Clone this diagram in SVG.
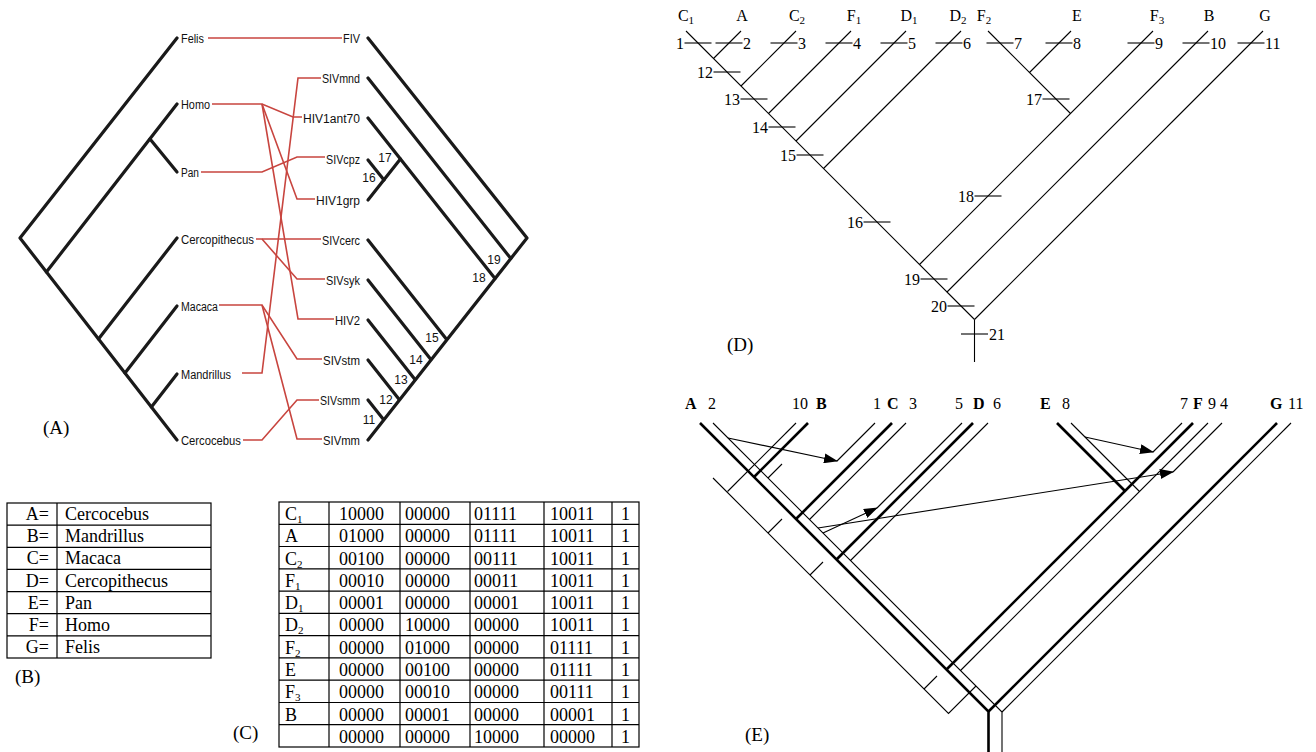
<svg xmlns="http://www.w3.org/2000/svg" width="1316" height="752" viewBox="0 0 1316 752">
<defs>
<marker id="ah" markerWidth="14" markerHeight="10" refX="13" refY="5" orient="auto" markerUnits="userSpaceOnUse">
<path d="M0,0 L14,5 L0,10 z" fill="#000"/>
</marker>
</defs>
<style>
.hA{stroke:#1a1a1a;stroke-width:3.2;fill:none;stroke-linecap:round;stroke-linejoin:round}
.red{stroke:#c8453f;stroke-width:1.6;fill:none}
.lblA{font-family:"Liberation Sans",Arial,sans-serif;font-size:12.5px;fill:#111}
.numA{font-family:"Liberation Sans",Arial,sans-serif;font-size:12px;fill:#111}
.serif{font-family:"Liberation Serif","Times New Roman",serif;fill:#000}
.s16{font-size:16px}
.s18{font-size:18px}
.s19{font-size:19px}
.b{font-weight:bold}
.thin{stroke:#000;stroke-width:1.1;fill:none}
.thick{stroke:#000;stroke-width:2.6;fill:none}
.grid{stroke:#000;stroke-width:1.2;fill:none}
.sub{font-size:11px}
</style>
<rect width="1316" height="752" fill="#fff"/>

<!-- ================= Panel A ================= -->
<g id="panelA-hostTree" class="hA">
<polyline points="177,38 20,238 177,440"/>
<line x1="177" y1="104" x2="46.4" y2="272"/>
<line x1="150" y1="139" x2="177" y2="172"/>
<line x1="177" y1="238" x2="98.5" y2="339"/>
<line x1="177" y1="306" x2="125" y2="373"/>
<line x1="177" y1="374" x2="151.4" y2="407"/>
</g>
<g id="panelA-parasiteTree" class="hA">
<polyline points="368,38 527,238 368,440"/>
<line x1="368" y1="78" x2="510.8" y2="258.5"/>
<line x1="368" y1="118" x2="495" y2="278.5"/>
<line x1="368" y1="160" x2="384" y2="180"/>
<line x1="368" y1="200" x2="400.4" y2="159"/>
<line x1="368" y1="240" x2="446.7" y2="339.5"/>
<line x1="368" y1="280" x2="430.9" y2="359.5"/>
<line x1="368" y1="320" x2="415" y2="379.4"/>
<line x1="368" y1="360" x2="399" y2="399.2"/>
<line x1="368" y1="400" x2="383.3" y2="419.3"/>
</g>
<g id="panelA-connectors" class="red">
<polyline points="208,38 342,38"/>
<polyline points="212,104 262,104 293,117 302,117"/>
<polyline points="262,104 297,199 315,199"/>
<polyline points="262,104 298,319 334,319"/>
<polyline points="201,172 262,172 297,157 325,157"/>
<polyline points="256,239 321,239"/>
<polyline points="262,239 297,279 325,279"/>
<polyline points="219,305 262,305 297,359 322,359"/>
<polyline points="262,305 297,439 322,439"/>
<polyline points="242,373 262,373 298,78 321,78"/>
<polyline points="243,440 262,440 297,400 319,400"/>
</g>
<g id="host-Felis"><text class="lblA" x="181" y="42.5" textLength="23" lengthAdjust="spacingAndGlyphs">Felis</text></g>
<g id="host-Homo"><text class="lblA" x="181" y="108.5" textLength="29" lengthAdjust="spacingAndGlyphs">Homo</text></g>
<g id="host-Pan"><text class="lblA" x="181" y="176.5" textLength="18" lengthAdjust="spacingAndGlyphs">Pan</text></g>
<g id="host-Cercopithecus"><text class="lblA" x="181" y="243.5" textLength="73" lengthAdjust="spacingAndGlyphs">Cercopithecus</text></g>
<g id="host-Macaca"><text class="lblA" x="181" y="310.5" textLength="37" lengthAdjust="spacingAndGlyphs">Macaca</text></g>
<g id="host-Mandrillus"><text class="lblA" x="181" y="378.5" textLength="50" lengthAdjust="spacingAndGlyphs">Mandrillus</text></g>
<g id="host-Cercocebus"><text class="lblA" x="181" y="444.5" textLength="60" lengthAdjust="spacingAndGlyphs">Cercocebus</text></g>
<g id="par-FIV"><text class="lblA" x="343" y="42.5" textLength="17" lengthAdjust="spacingAndGlyphs">FIV</text></g>
<g id="par-SIVmnd"><text class="lblA" x="322" y="82.5" textLength="38" lengthAdjust="spacingAndGlyphs">SIVmnd</text></g>
<g id="par-HIV1ant70"><text class="lblA" x="303" y="122.5" textLength="57" lengthAdjust="spacingAndGlyphs">HIV1ant70</text></g>
<g id="par-SIVcpz"><text class="lblA" x="326" y="163.5" textLength="34" lengthAdjust="spacingAndGlyphs">SIVcpz</text></g>
<g id="par-HIV1grp"><text class="lblA" x="316" y="204.5" textLength="44" lengthAdjust="spacingAndGlyphs">HIV1grp</text></g>
<g id="par-SIVcerc"><text class="lblA" x="322" y="244.5" textLength="38" lengthAdjust="spacingAndGlyphs">SIVcerc</text></g>
<g id="par-SIVsyk"><text class="lblA" x="326" y="284.5" textLength="34" lengthAdjust="spacingAndGlyphs">SIVsyk</text></g>
<g id="par-HIV2"><text class="lblA" x="335" y="324.5" textLength="25" lengthAdjust="spacingAndGlyphs">HIV2</text></g>
<g id="par-SIVstm"><text class="lblA" x="323" y="364.5" textLength="37" lengthAdjust="spacingAndGlyphs">SIVstm</text></g>
<g id="par-SIVsmm"><text class="lblA" x="320" y="404.5" textLength="40" lengthAdjust="spacingAndGlyphs">SIVsmm</text></g>
<g id="par-SIVmm"><text class="lblA" x="323" y="444.5" textLength="37" lengthAdjust="spacingAndGlyphs">SIVmm</text></g>
<g id="panelA-nodeNumbers" class="numA" text-anchor="middle">
<text x="385" y="162">17</text>
<text x="369" y="182">16</text>
<text x="494" y="264">19</text>
<text x="479" y="282">18</text>
<text x="432" y="342">15</text>
<text x="416" y="364">14</text>
<text x="401" y="384">13</text>
<text x="386" y="404">12</text>
<text x="369" y="424">11</text>
</g>
<text class="serif s19" x="43" y="434">(A)</text>

<!-- ================= Panel B ================= -->
<g id="tableB">
<rect class="grid" x="7" y="503" width="204" height="155"/>
<line class="grid" x1="57" y1="503" x2="57" y2="658"/>
<g class="grid">
<line x1="7" y1="525.1" x2="211" y2="525.1"/>
<line x1="7" y1="547.3" x2="211" y2="547.3"/>
<line x1="7" y1="569.4" x2="211" y2="569.4"/>
<line x1="7" y1="591.6" x2="211" y2="591.6"/>
<line x1="7" y1="613.7" x2="211" y2="613.7"/>
<line x1="7" y1="635.9" x2="211" y2="635.9"/>
</g>
<g class="serif s18" text-anchor="end">
<text x="49" y="520">A=</text>
<text x="49" y="542">B=</text>
<text x="49" y="564">C=</text>
<text x="49" y="586.5">D=</text>
<text x="49" y="608.5">E=</text>
<text x="49" y="630.5">F=</text>
<text x="49" y="653">G=</text>
</g>
<g class="serif s18">
<text x="65" y="520">Cercocebus</text>
<text x="65" y="542">Mandrillus</text>
<text x="65" y="564">Macaca</text>
<text x="65" y="586.5">Cercopithecus</text>
<text x="65" y="608.5">Pan</text>
<text x="65" y="630.5">Homo</text>
<text x="65" y="653">Felis</text>
</g>
</g>
<text class="serif s19" x="15" y="683">(B)</text>

<!-- ================= Panel C ================= -->
<g id="tableC">
<rect class="grid" x="279" y="502" width="360" height="245"/>
<g class="grid">
<line x1="329" y1="502" x2="329" y2="747"/>
<line x1="400" y1="502" x2="400" y2="747"/>
<line x1="470" y1="502" x2="470" y2="747"/>
<line x1="544" y1="502" x2="544" y2="747"/>
<line x1="612" y1="502" x2="612" y2="747"/>
<line x1="279" y1="524.3" x2="639" y2="524.3"/>
<line x1="279" y1="546.5" x2="639" y2="546.5"/>
<line x1="279" y1="568.8" x2="639" y2="568.8"/>
<line x1="279" y1="591.1" x2="639" y2="591.1"/>
<line x1="279" y1="613.4" x2="639" y2="613.4"/>
<line x1="279" y1="635.6" x2="639" y2="635.6"/>
<line x1="279" y1="657.9" x2="639" y2="657.9"/>
<line x1="279" y1="680.2" x2="639" y2="680.2"/>
<line x1="279" y1="702.5" x2="639" y2="702.5"/>
<line x1="279" y1="724.7" x2="639" y2="724.7"/>
</g>
<g class="serif s18">
<text x="285" y="520">C<tspan class="sub" dy="3">1</tspan></text>
<text x="285" y="542.3">A</text>
<text x="285" y="564.5">C<tspan class="sub" dy="3">2</tspan></text>
<text x="285" y="586.8">F<tspan class="sub" dy="3">1</tspan></text>
<text x="285" y="609.1">D<tspan class="sub" dy="3">1</tspan></text>
<text x="285" y="631.4">D<tspan class="sub" dy="3">2</tspan></text>
<text x="285" y="653.6">F<tspan class="sub" dy="3">2</tspan></text>
<text x="285" y="675.9">E</text>
<text x="285" y="698.2">F<tspan class="sub" dy="3">3</tspan></text>
<text x="285" y="720.5">B</text>
</g>
<g class="serif s18">
<text x="339" y="520">10000</text><text x="405" y="520">00000</text><text x="474" y="520">01111</text><text x="550" y="520">10011</text><text x="621" y="520">1</text>
<text x="339" y="542.3">01000</text><text x="405" y="542.3">00000</text><text x="474" y="542.3">01111</text><text x="550" y="542.3">10011</text><text x="621" y="542.3">1</text>
<text x="339" y="564.5">00100</text><text x="405" y="564.5">00000</text><text x="474" y="564.5">00111</text><text x="550" y="564.5">10011</text><text x="621" y="564.5">1</text>
<text x="339" y="586.8">00010</text><text x="405" y="586.8">00000</text><text x="474" y="586.8">00011</text><text x="550" y="586.8">10011</text><text x="621" y="586.8">1</text>
<text x="339" y="609.1">00001</text><text x="405" y="609.1">00000</text><text x="474" y="609.1">00001</text><text x="550" y="609.1">10011</text><text x="621" y="609.1">1</text>
<text x="339" y="631.4">00000</text><text x="405" y="631.4">10000</text><text x="474" y="631.4">00000</text><text x="550" y="631.4">10011</text><text x="621" y="631.4">1</text>
<text x="339" y="653.6">00000</text><text x="405" y="653.6">01000</text><text x="474" y="653.6">00000</text><text x="550" y="653.6">01111</text><text x="621" y="653.6">1</text>
<text x="339" y="675.9">00000</text><text x="405" y="675.9">00100</text><text x="474" y="675.9">00000</text><text x="550" y="675.9">01111</text><text x="621" y="675.9">1</text>
<text x="339" y="698.2">00000</text><text x="405" y="698.2">00010</text><text x="474" y="698.2">00000</text><text x="550" y="698.2">00111</text><text x="621" y="698.2">1</text>
<text x="339" y="720.5">00000</text><text x="405" y="720.5">00001</text><text x="474" y="720.5">00000</text><text x="550" y="720.5">00001</text><text x="621" y="720.5">1</text>
<text x="339" y="742.7">00000</text><text x="405" y="742.7">00000</text><text x="474" y="742.7">10000</text><text x="550" y="742.7">00000</text><text x="621" y="742.7">1</text>
</g>
</g>
<text class="serif s19" x="233" y="739">(C)</text>

<!-- ================= Panel D ================= -->
<g id="treeD" class="thin">
<line x1="686" y1="31" x2="974.5" y2="319.5"/>
<line x1="741" y1="31" x2="713.5" y2="58.5"/>
<line x1="796" y1="31" x2="741" y2="86"/>
<line x1="851" y1="31" x2="768.5" y2="113.5"/>
<line x1="906" y1="31" x2="796" y2="141"/>
<line x1="961" y1="31" x2="823.5" y2="168.5"/>
<line x1="988" y1="31" x2="1070.5" y2="113.5"/>
<line x1="1071" y1="31" x2="1029.5" y2="72.5"/>
<line x1="1153" y1="31" x2="919.5" y2="264.5"/>
<line x1="1208" y1="31" x2="947" y2="292"/>
<line x1="1263" y1="31" x2="974.5" y2="319.5"/>
<line x1="974.5" y1="319.5" x2="974.5" y2="362"/>
</g>
<g id="ticksD" class="thin">
<line x1="684.5" y1="43" x2="711.5" y2="43"/>
<line x1="715.5" y1="43" x2="742.5" y2="43"/>
<line x1="770.5" y1="43" x2="797.5" y2="43"/>
<line x1="825.5" y1="43" x2="852.5" y2="43"/>
<line x1="880.5" y1="43" x2="907.5" y2="43"/>
<line x1="935.5" y1="43" x2="962.5" y2="43"/>
<line x1="986.5" y1="43" x2="1013.5" y2="43"/>
<line x1="1045.5" y1="43" x2="1072.5" y2="43"/>
<line x1="1127.5" y1="43" x2="1154.5" y2="43"/>
<line x1="1182.5" y1="43" x2="1209.5" y2="43"/>
<line x1="1237.5" y1="43" x2="1264.5" y2="43"/>
<line x1="713.5" y1="72" x2="740.5" y2="72"/>
<line x1="740.5" y1="99" x2="767.5" y2="99"/>
<line x1="768.5" y1="127" x2="795.5" y2="127"/>
<line x1="796.5" y1="155" x2="823.5" y2="155"/>
<line x1="863.5" y1="222" x2="890.5" y2="222"/>
<line x1="1042.5" y1="99" x2="1069.5" y2="99"/>
<line x1="974.5" y1="196" x2="1001.5" y2="196"/>
<line x1="920.5" y1="279" x2="947.5" y2="279"/>
<line x1="947.5" y1="306" x2="974.5" y2="306"/>
<line x1="961" y1="334" x2="988" y2="334"/>
</g>
<g id="labelsD" class="serif s16" text-anchor="middle">
<text x="686" y="21">C<tspan class="sub" dy="3">1</tspan></text>
<text x="742" y="21">A</text>
<text x="797" y="21">C<tspan class="sub" dy="3">2</tspan></text>
<text x="854" y="21">F<tspan class="sub" dy="3">1</tspan></text>
<text x="909" y="21">D<tspan class="sub" dy="3">1</tspan></text>
<text x="958" y="21">D<tspan class="sub" dy="3">2</tspan></text>
<text x="984" y="21">F<tspan class="sub" dy="3">2</tspan></text>
<text x="1077" y="21">E</text>
<text x="1157" y="21">F<tspan class="sub" dy="3">3</tspan></text>
<text x="1209" y="21">B</text>
<text x="1265" y="21">G</text>
</g>
<g id="numsD-right" class="serif s16">
<text x="743" y="48.5">2</text>
<text x="798" y="48.5">3</text>
<text x="853" y="48.5">4</text>
<text x="908" y="48.5">5</text>
<text x="963" y="48.5">6</text>
<text x="1014" y="48.5">7</text>
<text x="1073" y="48.5">8</text>
<text x="1155" y="48.5">9</text>
<text x="1210" y="48.5">10</text>
<text x="1265" y="48.5">11</text>
<text x="989" y="339.5">21</text>
</g>
<g id="numsD-left" class="serif s16" text-anchor="end">
<text x="684" y="48.5">1</text>
<text x="713" y="77.5">12</text>
<text x="740" y="104.5">13</text>
<text x="768" y="132.5">14</text>
<text x="796" y="160.5">15</text>
<text x="863" y="227.5">16</text>
<text x="1042" y="104.5">17</text>
<text x="974" y="201.5">18</text>
<text x="920" y="284.5">19</text>
<text x="947" y="311.5">20</text>
</g>
<text class="serif s19" x="727" y="351">(D)</text>

<!-- ================= Panel E ================= -->
<g id="hostTreeE" class="thick">
<polyline points="700,423 988.5,711.5 988.5,752"/>
<line x1="808" y1="423" x2="754" y2="477"/>
<line x1="892" y1="423" x2="796" y2="519"/>
<line x1="973" y1="423" x2="836.5" y2="559.5"/>
<line x1="1057" y1="423" x2="1125" y2="491"/>
<line x1="1193" y1="423" x2="946.5" y2="669.5"/>
<line x1="1277" y1="423" x2="988.5" y2="711.5"/>
</g>
<g id="parasiteTreeE" class="thin">
<polyline points="713,423 1002,712 1002,752"/>
<line x1="1291" y1="423" x2="1002" y2="712"/>
<polyline points="713,478 948.5,713.5 976,686"/>
<line x1="796" y1="423" x2="727.5" y2="491.5"/>
<line x1="1208" y1="423" x2="960.5" y2="670.5"/>
<line x1="1071" y1="423" x2="1139.5" y2="491.5"/>
<line x1="1182" y1="423" x2="1153" y2="452"/>
<line x1="1222" y1="423" x2="1173" y2="472"/>
<line x1="988" y1="423" x2="850.5" y2="560.5"/>
<line x1="962" y1="423" x2="877" y2="508"/>
<line x1="906" y1="423" x2="809.5" y2="519.5"/>
<line x1="875" y1="423" x2="837" y2="461"/>
<line x1="768" y1="478" x2="782" y2="464"/>
<line x1="768" y1="533" x2="782" y2="519"/>
<line x1="810" y1="575" x2="823" y2="562"/>
<line x1="924" y1="689" x2="937" y2="676"/>
</g>
<g id="switchesE" class="thin">
<line x1="728" y1="438" x2="837" y2="461" marker-end="url(#ah)"/>
<line x1="818" y1="528" x2="1173" y2="472" marker-end="url(#ah)"/>
<line x1="823" y1="533" x2="877" y2="508" marker-end="url(#ah)"/>
<line x1="1085" y1="437" x2="1153" y2="452" marker-end="url(#ah)"/>
</g>
<g id="labelsE" class="serif s16">
<text class="b" x="685" y="409">A</text><text x="708" y="409">2</text>
<text x="792" y="409">10</text><text class="b" x="816" y="409">B</text>
<text x="873" y="409">1</text><text class="b" x="887" y="409">C</text><text x="909" y="409">3</text>
<text x="955" y="409">5</text><text class="b" x="973" y="409">D</text><text x="993" y="409">6</text>
<text class="b" x="1040" y="409">E</text><text x="1062" y="409">8</text>
<text x="1180" y="409">7</text><text class="b" x="1193" y="409">F</text><text x="1208" y="409">9</text><text x="1220" y="409">4</text>
<text class="b" x="1270" y="409">G</text><text x="1288" y="409">11</text>
</g>
<text class="serif s19" x="745" y="741">(E)</text>
</svg>
